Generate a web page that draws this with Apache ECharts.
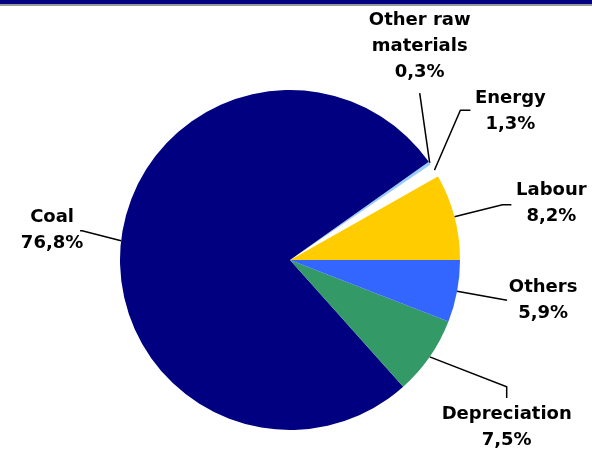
<!DOCTYPE html>
<html>
<head>
<meta charset="utf-8">
<script src="https://cdn.jsdelivr.net/npm/echarts@6/dist/echarts.min.js"></script>
<style>
  html, body { margin: 0; padding: 0; background: #fff; }
  #chart { width: 592px; height: 452px; }
</style>
</head>
<body>
<div id="chart"></div>
<script>
// ---- data ----
const categories = ['Labour', 'Energy', 'Other raw materials', 'Coal', 'Depreciation', 'Others'];
const displayNames = ['Labour', 'Energy', 'Other raw\nmaterials', 'Coal', 'Depreciation', 'Others'];
const values = [8.2, 1.3, 0.3, 76.8, 7.5, 5.9];

// ---- styling (not data) ----
const colors = ['#FFCC00', '#FFFFFF', '#99CCFF', '#000080', '#339966', '#3366FF'];
// label line offsets and label centre offsets relative to each slice's edge anchor
const labelGeom = [
  { line: [[48, -12], [57, -12]], text: [97, -13] },
  { line: [[26, -60], [36, -60]], text: [76, -59] },
  { line: [[-10, -70]], text: [-10, -117] },
  { line: [[-39, -10], [-41, -10]], text: [-69, -10] },
  { line: [[77, 30], [77, 41]], text: [77, 70] },
  { line: [[50, 9]], text: [86, 9] }
];

const chart = echarts.init(document.getElementById('chart'), null, { renderer: 'canvas' });

const pieData = categories.map((c, i) => ({
  name: c,
  value: values[i],
  itemStyle: { color: colors[i] }
}));

chart.setOption({
  animation: false,
  backgroundColor: '#ffffff',
  graphic: [
    { type: 'rect', shape: { x: 0, y: 0, width: 592, height: 4 }, style: { fill: '#000080' } },
    { type: 'rect', shape: { x: 0, y: 4, width: 592, height: 2 }, style: { fill: '#9a9a9a' } }
  ],
  series: [{
    type: 'pie',
    center: [290, 260],
    radius: [0, 170],
    startAngle: 0,
    clockwise: false,
    avoidLabelOverlap: false,
    data: pieData,
    label: {
      show: true,
      position: 'outside',
      color: '#000',
      fontFamily: 'DejaVu Sans',
      fontWeight: 'bold',
      fontSize: 18,
      lineHeight: 26,
      align: 'center',
      formatter: function (p) {
        return displayNames[p.dataIndex] + '\n' + p.value.toFixed(1).replace('.', ',') + '%';
      }
    },
    labelLine: {
      show: true,
      length: 20,
      length2: 10,
      lineStyle: { color: '#000', width: 1.5 }
    },
    labelLayout: function (params) {
      const g = labelGeom[params.dataIndex];
      const pts = params.labelLinePoints;
      if (!pts) return {};
      const a = pts[0];
      const line = [[a[0], a[1]]].concat(g.line.map(o => [a[0] + o[0], a[1] + o[1]]));
      return {
        x: a[0] + g.text[0],
        y: a[1] + g.text[1],
        align: 'center',
        verticalAlign: 'middle',
        labelLinePoints: line
      };
    }
  }]
});
</script>
</body>
</html>
